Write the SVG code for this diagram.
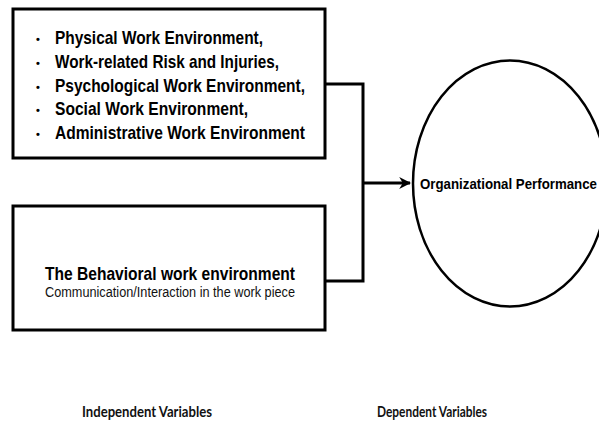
<svg xmlns="http://www.w3.org/2000/svg" width="599" height="421" viewBox="0 0 599 421">
<defs>
<style>
.box{fill:#fff;stroke:#000;stroke-width:3}
.ln{fill:none;stroke:#000;stroke-width:3}
.b{font-family:"Liberation Sans",Arial,sans-serif;font-weight:bold;fill:#000}
.r{font-family:"Liberation Sans",Arial,sans-serif;fill:#111}
.dot{font-family:"Liberation Sans",Arial,sans-serif;font-weight:bold;font-size:11px;fill:#000}
.lab{font-family:Lato,"Liberation Sans",sans-serif;font-weight:bold;font-size:14.5px;fill:#111}
</style>
<marker id="arr" viewBox="0 0 10 10" refX="9" refY="5" markerWidth="4" markerHeight="4" orient="auto" markerUnits="strokeWidth">
<path d="M0,0 L10,5 L0,10 L3,5 Z" fill="#000"/>
</marker>
</defs>
<rect width="599" height="421" fill="#fff"/>
<g id="connectors">
<path class="ln" d="M325,84 H363 V281 H325"/>
<path class="ln" d="M363,183 H410" marker-end="url(#arr)"/>
</g>
<g id="box1">
<rect class="box" x="13" y="9" width="312" height="149"/>
<g class="b" font-size="18.5">
<text class="dot" x="36" y="43">•</text><text x="55" y="44" textLength="208" lengthAdjust="spacingAndGlyphs">Physical Work Environment,</text>
<text class="dot" x="36" y="67">•</text><text x="55" y="68" textLength="224" lengthAdjust="spacingAndGlyphs">Work-related Risk and Injuries,</text>
<text class="dot" x="36" y="91">•</text><text x="55" y="92" textLength="250" lengthAdjust="spacingAndGlyphs">Psychological Work Environment,</text>
<text class="dot" x="36" y="114">•</text><text x="55" y="115" textLength="193" lengthAdjust="spacingAndGlyphs">Social Work Environment,</text>
<text class="dot" x="36" y="138">•</text><text x="55" y="139" textLength="250" lengthAdjust="spacingAndGlyphs">Administrative Work Environment</text>
</g>
</g>
<g id="box2">
<rect class="box" x="13" y="206" width="312" height="124"/>
<text class="b" x="45" y="280" font-size="19" textLength="250" lengthAdjust="spacingAndGlyphs">The Behavioral work environment</text>
<text class="r" x="45" y="297" font-size="14" textLength="250" lengthAdjust="spacingAndGlyphs">Communication/Interaction in the work  piece</text>
</g>
<g id="ellipse">
<ellipse cx="510" cy="183.5" rx="97" ry="123" fill="#fff" stroke="#000" stroke-width="2.5"/>
<text class="b" x="420" y="189" font-size="15" textLength="177" lengthAdjust="spacingAndGlyphs">Organizational Performance</text>
</g>
<g id="labels">
<text class="lab" x="147" y="417" text-anchor="middle" textLength="130" lengthAdjust="spacingAndGlyphs">Independent Variables</text>
<text class="lab" x="432" y="417" text-anchor="middle" textLength="110" lengthAdjust="spacingAndGlyphs">Dependent Variables</text>
</g>
</svg>
